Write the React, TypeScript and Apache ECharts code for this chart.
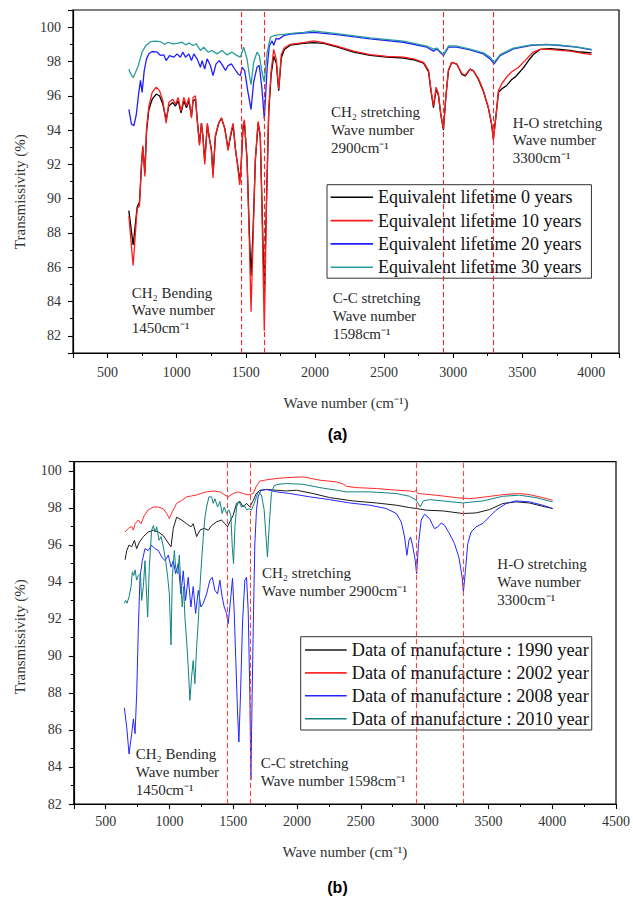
import React, { useEffect, useRef } from "react";
import * as echarts from "echarts";

// ---------- data ----------
const namesA = [
  "Equivalent lifetime 0 years",
  "Equivalent lifetime 10 years",
  "Equivalent lifetime 20 years",
  "Equivalent lifetime 30 years",
];
const namesB = [
  "Data of manufacture : 1990 year",
  "Data of manufacture : 2002 year",
  "Data of manufacture : 2008 year",
  "Data of manufacture : 2010 year",
];

const life0 = [[654,89.3],[685,87.3],[714,89.5],[731,89.8],[746,92.0],[755,93.0],[770,91.5],[782,93.9],[799,95.2],[823,95.8],[852,96.1],[876,96.0],[900,95.5],[924,94.6],[943,95.4],[972,95.6],[991,95.4],[1011,95.7],[1032,95.0],[1052,95.7],[1071,95.3],[1088,95.7],[1107,94.8],[1119,95.7],[1136,95.8],[1148,94.7],[1165,93.2],[1179,94.4],[1189,93.7],[1203,92.2],[1222,94.3],[1237,93.5],[1251,92.9],[1263,91.4],[1280,93.6],[1304,94.4],[1324,94.7],[1348,94.1],[1372,92.9],[1389,93.6],[1408,94.3],[1425,92.9],[1444,91.8],[1456,91.0],[1466,91.9],[1480,94.1],[1490,94.4],[1509,92.3],[1526,88.0],[1538,85.5],[1552,88.0],[1569,92.2],[1589,94.4],[1605,93.6],[1617,89.8],[1634,84.3],[1649,89.6],[1666,95.0],[1683,97.2],[1702,98.3],[1721,97.9],[1738,96.3],[1757,98.2],[1779,98.7],[1822,98.95],[1918,99.05],[1991,99.1],[2063,99.05],[2159,98.85],[2280,98.55],[2400,98.35],[2521,98.25],[2641,98.2],[2713,98.1],[2786,97.9],[2822,97.4],[2841,96.2],[2858,95.3],[2877,96.4],[2894,96.0],[2911,94.9],[2930,94.0],[2947,95.9],[2966,97.45],[2990,97.95],[3026,97.85],[3063,97.25],[3087,97.15],[3123,97.55],[3147,97.45],[3183,96.95],[3219,96.25],[3255,95.3],[3279,94.3],[3291,93.5],[3311,94.9],[3328,96.2],[3352,96.4],[3388,96.6],[3424,96.95],[3450,97.1],[3472,97.3],[3500,97.55],[3520,97.75],[3550,98.1],[3580,98.4],[3629,98.7],[3701,98.75],[3773,98.7],[3845,98.65],[3918,98.55],[4002,98.5]];

const life10 = [[654,89.0],[685,86.1],[714,89.4],[731,89.6],[746,92.1],[755,93.1],[770,91.3],[782,94.1],[799,95.4],[823,96.2],[852,96.5],[876,96.3],[900,95.7],[924,94.4],[943,95.6],[972,95.8],[991,95.5],[1011,95.9],[1032,95.1],[1052,95.9],[1071,95.4],[1088,95.9],[1107,94.7],[1119,95.9],[1136,96.0],[1148,94.6],[1165,93.1],[1179,94.4],[1189,93.7],[1203,92.0],[1222,94.4],[1237,93.5],[1251,92.8],[1263,91.2],[1280,93.7],[1304,94.4],[1324,94.7],[1348,94.1],[1372,92.8],[1389,93.7],[1408,94.4],[1425,92.9],[1444,91.7],[1456,90.8],[1466,91.9],[1480,94.3],[1490,94.6],[1509,92.3],[1526,87.4],[1538,83.4],[1552,87.4],[1569,92.3],[1589,94.5],[1605,93.7],[1617,89.4],[1634,82.3],[1649,89.4],[1666,95.2],[1683,97.4],[1702,98.7],[1721,98.1],[1738,96.4],[1757,98.4],[1779,98.8],[1822,99.0],[1918,99.1],[1991,99.2],[2063,99.1],[2159,98.9],[2280,98.6],[2400,98.4],[2521,98.3],[2641,98.25],[2713,98.15],[2786,97.95],[2822,97.5],[2841,96.3],[2858,95.4],[2877,96.5],[2894,96.1],[2911,94.9],[2930,94.1],[2947,95.9],[2966,97.5],[2990,97.95],[3026,97.85],[3063,97.3],[3087,97.2],[3123,97.55],[3147,97.45],[3183,97.0],[3219,96.3],[3255,95.3],[3279,94.35],[3291,93.4],[3311,94.9],[3328,96.3],[3352,96.7],[3388,97.1],[3424,97.4],[3472,97.65],[3520,98.05],[3580,98.55],[3629,98.7],[3701,98.7],[3773,98.65],[3845,98.6],[3918,98.5],[4002,98.4]];

const life20 = [[654,95.2],[673,94.35],[690,94.25],[707,94.85],[726,96.2],[738,96.9],[750,96.2],[765,97.45],[782,98.15],[799,98.45],[823,98.58],[859,98.54],[883,98.35],[907,98.38],[924,98.05],[948,98.34],[979,98.25],[1003,98.44],[1027,98.25],[1044,98.54],[1064,98.25],[1088,98.44],[1107,98.05],[1124,98.44],[1148,98.15],[1172,97.66],[1184,98.05],[1203,97.56],[1220,98.15],[1244,97.76],[1263,97.18],[1285,97.86],[1309,98.05],[1333,97.76],[1353,97.47],[1372,97.76],[1396,97.86],[1420,97.56],[1444,97.27],[1461,97.18],[1473,97.66],[1492,97.47],[1516,96.2],[1538,95.2],[1557,96.8],[1581,97.66],[1598,97.76],[1617,96.4],[1634,94.65],[1654,97.56],[1670,98.9],[1690,99.2],[1702,98.95],[1720,99.35],[1738,99.3],[1774,99.5],[1822,99.6],[1918,99.65],[1991,99.7],[2159,99.57],[2400,99.32],[2641,99.12],[2810,98.83],[2858,98.6],[2882,98.73],[2930,98.34],[2966,98.83],[3026,98.83],[3123,98.67],[3219,98.44],[3267,98.15],[3296,97.86],[3340,98.34],[3436,98.73],[3556,98.93],[3677,98.99],[3773,98.93],[3893,98.83],[4002,98.67]];

const life30 = [[654,97.55],[666,97.3],[685,97.05],[702,97.35],[722,97.75],[750,98.55],[779,98.95],[811,99.15],[847,99.18],[883,99.15],[914,99.0],[938,99.12],[972,99.02],[1003,99.06],[1039,99.12],[1064,98.97],[1092,99.08],[1117,98.93],[1141,99.02],[1172,98.64],[1196,98.83],[1227,98.54],[1256,98.64],[1292,98.44],[1328,98.64],[1365,98.38],[1401,98.54],[1437,98.34],[1461,98.25],[1485,98.83],[1509,98.15],[1526,97.2],[1538,96.65],[1557,97.95],[1581,98.54],[1598,98.34],[1617,97.4],[1634,96.8],[1654,98.5],[1678,99.4],[1702,99.5],[1733,99.55],[1774,99.58],[1850,99.65],[1918,99.7],[1991,99.78],[2050,99.72],[2159,99.62],[2400,99.38],[2641,99.18],[2810,98.9],[2858,98.72],[2882,98.78],[2930,98.4],[2966,98.9],[3026,98.9],[3123,98.72],[3219,98.5],[3267,98.25],[3296,97.95],[3340,98.4],[3436,98.78],[3556,98.95],[3677,98.98],[3773,98.95],[3893,98.85],[4002,98.7]];

const made1990 = [[652,95.2],[665,95.7],[683,96.0],[704,95.9],[725,96.25],[743,95.8],[764,96.15],[795,96.45],[834,96.7],[874,96.8],[913,96.7],[952,96.5],[986,96.15],[1012,95.9],[1030,96.9],[1056,97.5],[1095,97.35],[1134,97.15],[1168,96.98],[1186,97.15],[1213,96.45],[1239,96.8],[1272,96.9],[1304,96.8],[1330,97.05],[1369,97.25],[1408,97.35],[1434,97.15],[1455,96.98],[1473,97.25],[1499,97.6],[1526,98.25],[1552,98.35],[1578,98.05],[1604,98.25],[1630,98.05],[1656,98.4],[1682,98.8],[1708,98.95],[1760,99.0],[1851,98.95],[1917,98.92],[1995,98.96],[2125,98.78],[2256,98.56],[2438,98.38],[2621,98.27],[2778,98.15],[2882,98.02],[2934,97.97],[3012,97.88],[3143,97.84],[3299,97.7],[3403,97.73],[3508,97.91],[3612,98.24],[3716,98.33],[3821,98.27],[3925,98.09],[4003,97.97]];

const made2002 = [[652,96.7],[678,96.9],[704,97.0],[717,96.8],[730,97.15],[756,97.35],[777,97.15],[803,97.6],[834,97.9],[874,98.05],[913,98.05],[952,97.95],[978,97.7],[999,97.43],[1022,97.8],[1056,98.25],[1095,98.4],[1134,98.6],[1173,98.65],[1213,98.7],[1252,98.8],[1291,98.87],[1343,98.92],[1395,98.87],[1434,98.7],[1460,98.6],[1499,98.78],[1539,98.87],[1578,98.78],[1617,98.7],[1656,98.78],[1682,99.2],[1708,99.45],[1760,99.52],[1825,99.58],[1917,99.64],[2047,99.68],[2178,99.5],[2308,99.41],[2360,99.3],[2386,99.17],[2465,99.1],[2621,99.05],[2778,98.96],[2882,98.92],[2921,98.87],[2930,98.95],[2947,98.78],[3090,98.69],[3247,98.56],[3351,98.5],[3482,98.6],[3612,98.72],[3743,98.78],[3821,98.72],[3925,98.56],[4003,98.42]];

const made2008 = [[646,87.2],[665,86.15],[683,84.7],[704,85.8],[717,86.6],[730,85.8],[743,87.95],[756,91.55],[769,94.25],[787,95.15],[808,95.8],[834,95.7],[860,95.98],[887,95.8],[913,95.7],[939,95.35],[965,95.15],[991,95.45],[1012,94.8],[1030,95.15],[1048,94.45],[1069,95.0],[1090,93.35],[1108,94.6],[1126,93.0],[1147,94.25],[1168,92.65],[1186,93.75],[1205,92.3],[1226,93.55],[1246,92.65],[1265,92.85],[1291,93.35],[1317,94.1],[1335,94.25],[1356,93.55],[1377,93.35],[1395,94.1],[1413,93.2],[1429,92.65],[1447,92.3],[1460,91.75],[1468,92.3],[1481,93.2],[1494,94.2],[1507,92.45],[1520,89.75],[1533,87.05],[1544,85.35],[1557,87.95],[1573,91.9],[1591,94.1],[1604,94.25],[1617,92.45],[1630,87.95],[1638,83.3],[1648,87.95],[1659,92.45],[1669,96.05],[1682,97.9],[1695,98.6],[1716,98.95],[1760,99.0],[1838,98.87],[1943,98.78],[2099,98.6],[2256,98.45],[2412,98.27],[2569,98.15],[2699,97.97],[2778,97.7],[2817,97.24],[2843,96.43],[2861,95.44],[2877,96.25],[2890,96.43],[2908,95.89],[2926,95.17],[2937,94.45],[2952,96.07],[2973,97.34],[2999,97.66],[3038,97.43],[3077,96.88],[3104,96.98],[3130,97.19],[3156,97.07],[3195,96.61],[3234,96.07],[3268,95.35],[3294,94.27],[3304,93.46],[3320,94.63],[3338,96.07],[3364,96.7],[3403,96.98],[3456,97.16],[3508,97.52],[3560,97.88],[3638,98.24],[3716,98.38],[3821,98.33],[3925,98.15],[4003,97.97]];

const made2010 = [[646,92.85],[657,93.0],[667,92.85],[683,93.2],[699,93.75],[709,94.55],[720,94.35],[730,94.65],[743,94.1],[756,94.35],[772,94.45],[782,93.0],[795,93.75],[808,95.15],[829,92.1],[842,94.8],[860,96.8],[874,97.05],[887,96.7],[900,96.98],[918,96.25],[934,96.45],[952,95.9],[970,95.15],[986,94.25],[999,93.35],[1012,90.6],[1022,94.25],[1038,95.7],[1048,94.8],[1064,94.45],[1077,95.45],[1090,93.75],[1100,92.65],[1111,93.75],[1121,92.1],[1134,90.85],[1147,89.4],[1160,87.6],[1173,88.85],[1186,89.75],[1199,88.5],[1213,90.5],[1226,91.9],[1239,93.75],[1252,95.15],[1265,96.45],[1278,97.5],[1291,98.05],[1309,98.6],[1330,98.6],[1343,98.25],[1356,98.5],[1377,98.05],[1395,98.35],[1413,97.7],[1429,98.05],[1447,97.7],[1465,97.9],[1481,97.6],[1492,95.9],[1502,95.0],[1513,97.0],[1526,98.05],[1544,98.35],[1565,98.05],[1586,98.15],[1604,97.9],[1622,97.95],[1643,97.9],[1664,98.25],[1682,98.6],[1695,98.87],[1721,98.7],[1742,97.9],[1755,96.6],[1768,95.35],[1781,96.95],[1799,98.8],[1820,99.2],[1851,99.28],[1917,99.32],[2047,99.28],[2178,99.1],[2308,98.96],[2386,98.87],[2569,98.87],[2778,98.78],[2882,98.63],[2934,98.42],[2965,98.06],[2991,98.38],[3038,98.45],[3143,98.38],[3299,98.27],[3456,98.38],[3612,98.63],[3743,98.69],[3873,98.56],[4003,98.33]];

const dashA = [1465, 1632, 2928, 3288];
const dashB = [1452, 1636, 2932, 3302];

const notesA = [
  ["CH₂ stretching", "Wave number", "2900cm⁻¹"],
  ["H-O stretching", "Wave number", "3300cm⁻¹"],
  ["CH₂ Bending", "Wave number", "1450cm⁻¹"],
  ["C-C stretching", "Wave number", "1598cm⁻¹"],
];
const notesB = [
  ["CH₂ stretching", "Wave number 2900cm⁻¹"],
  ["H-O stretching", "Wave number", "3300cm⁻¹"],
  ["CH₂ Bending", "Wave number", "1450cm⁻¹"],
  ["C-C stretching", "Wave number 1598cm⁻¹"],
];
const panelLabels = ["(a)", "(b)"];
const yName = "Transmissivity (%)";
const xName = "Wave number (cm⁻¹)";

// ---------- component ----------
const serif = "Liberation Serif";
const sans = "Liberation Sans";

export default function App() {
  const ref = useRef<HTMLDivElement>(null);
  useEffect(() => {
    if (!ref.current) return;
    const chart = echarts.init(ref.current, null, { renderer: "svg" });

    const colorsA = ["#000000", "#ff1a1a", "#2020ff", "#2a9c9c"];
    const colorsB = ["#1a1a1a", "#ff2a2a", "#2525ff", "#108282"];
    const dataA = [life0, life10, life20, life30];
    const dataB = [made1990, made2002, made2008, made2010];

    const xAxis = (gridIndex: number, min: number, max: number, splitNumber: number, margin: number, gap: number) => ({
      type: "value", gridIndex, min, max, splitNumber,
      name: xName, nameLocation: "middle", nameGap: gap,
      nameTextStyle: { fontFamily: serif, fontSize: 15, color: "#333" },
      axisLine: { show: true, onZero: false, lineStyle: { color: "#000", width: 1.2 } },
      axisTick: { show: true, inside: false, length: 5, lineStyle: { color: "#000", width: 1.1 } },
      minorTick: { show: true, splitNumber: 2, length: 3, lineStyle: { color: "#000", width: 1 } },
      splitLine: { show: false }, minorSplitLine: { show: false },
      axisLabel: {
        margin, fontFamily: serif, fontSize: 14, color: "#333",
        formatter: (v: number) => (v % 500 === 0 ? String(v) : ""),
      },
    });
    const yAxis = (gridIndex: number, min: number, max: number) => ({
      type: "value", gridIndex, min, max, splitNumber: 10,
      axisLine: { show: true, onZero: false, lineStyle: { color: "#000", width: 1.2 } },
      axisTick: { show: true, inside: false, length: 5, lineStyle: { color: "#000", width: 1.1 } },
      minorTick: { show: true, splitNumber: 2, length: 3, lineStyle: { color: "#000", width: 1 } },
      splitLine: { show: false }, minorSplitLine: { show: false },
      axisLabel: {
        margin: 12, fontFamily: serif, fontSize: 14, color: "#333",
        formatter: (v: number) => (Number.isInteger(v) && v % 2 === 0 ? String(v) : ""),
      },
    });

    const mkSeries = (names: string[], data: number[][][], colors: string[], idx: number, dash: number[], dashColor: string, width: number) =>
      names.map((name, i) => ({
        type: "line", name, xAxisIndex: idx, yAxisIndex: idx, data: data[i],
        symbol: "none", showSymbol: false, silent: true, clip: true,
        lineStyle: { color: colors[i], width },
        itemStyle: { color: colors[i] },
        z: 2 + i,
        markLine: i === 0 ? {
          silent: true, symbol: "none", label: { show: false },
          lineStyle: { color: dashColor, type: [5, 3], width: 1.1 },
          data: dash.map((v) => ({ xAxis: v })),
        } : undefined,
      }));

    const legend = (names: string[], left: number, top: number, padding: number[], gap: number, itemWidth: number, fontSize: number) => ({
      data: names.map((n) => ({ name: n, icon: "rect" })), orient: "vertical", left, top, padding, itemGap: gap,
      itemWidth, itemHeight: 1.6,
      borderColor: "#333", borderWidth: 1, backgroundColor: "#fff",
      textStyle: { fontFamily: serif, fontSize, color: "#111", lineHeight: 20 },
      selectedMode: false,
    });

    const textEl = (x: number, y: number, text: string, extra: any = {}) => ({
      type: "text", x, y, silent: true, z: 100,
      style: { text, fontFamily: serif, fontSize: 15, fill: "#2a2a2a", align: "left", verticalAlign: "middle", ...extra },
    });

    const notePosA = [[331, 112.3], [512.7, 122.5], [131.7, 292.7], [332.7, 298.3]];
    const notePosB = [[262, 573.3], [497.3, 564], [135.7, 754], [260.7, 763.3]];
    const elements: any[] = [];
    notesA.forEach((lines, k) => lines.forEach((t, j) => elements.push(textEl(notePosA[k][0], notePosA[k][1] + j * 17.7, t))));
    notesB.forEach((lines, k) => lines.forEach((t, j) => elements.push(textEl(notePosB[k][0], notePosB[k][1] + j * 18, t))));
    elements.push({ ...textEl(20, 191.7, yName, { align: "center", fontSize: 15, fill: "#333" }), rotation: Math.PI / 2 });
    elements.push({ ...textEl(20, 636.7, yName, { align: "center", fontSize: 15, fill: "#333" }), rotation: Math.PI / 2 });
    elements.push(textEl(337.5, 434, panelLabels[0], { align: "center", fontFamily: sans, fontWeight: "bold", fontSize: 16, fill: "#000" }));
    elements.push(textEl(337.5, 887.5, panelLabels[1], { align: "center", fontFamily: sans, fontWeight: "bold", fontSize: 16, fill: "#000" }));

    chart.setOption({
      animation: false,
      backgroundColor: "#fff",
      grid: [
        { left: 73, top: 10, width: 546, height: 343, show: true, borderColor: "#000", borderWidth: 1.2, backgroundColor: "transparent", containLabel: false },
        { left: 73.8, top: 461.7, width: 543.9, height: 342.3, show: true, borderColor: "#000", borderWidth: 1.2, backgroundColor: "transparent", containLabel: false },
      ],
      xAxis: [xAxis(0, 250, 4200, 8, 12, 42.5), xAxis(1, 250, 4500, 9, 10, 40.5)],
      yAxis: [yAxis(0, 81, 101), yAxis(1, 82, 100.5)],
      legend: [
        legend(namesA, 327, 184.7, [2.6, 10, 1, 3.6], 3.3, 42.4, 18),
        legend(namesB, 300.7, 636.7, [3.3, 3, 1.3, 4.3], 2.9, 41.7, 18.3),
      ],
      series: [
        ...mkSeries(namesA, dataA, colorsA, 0, dashA, "#ff2020", 1.3),
        ...mkSeries(namesB, dataB, colorsB, 1, dashB, "#ff4040", 1.0),
      ],
      graphic: { elements },
    });
    return () => chart.dispose();
  }, []);
  return <div ref={ref} style={{ position: "absolute", left: 0, top: 0, width: 633, height: 901 }} />;
}
